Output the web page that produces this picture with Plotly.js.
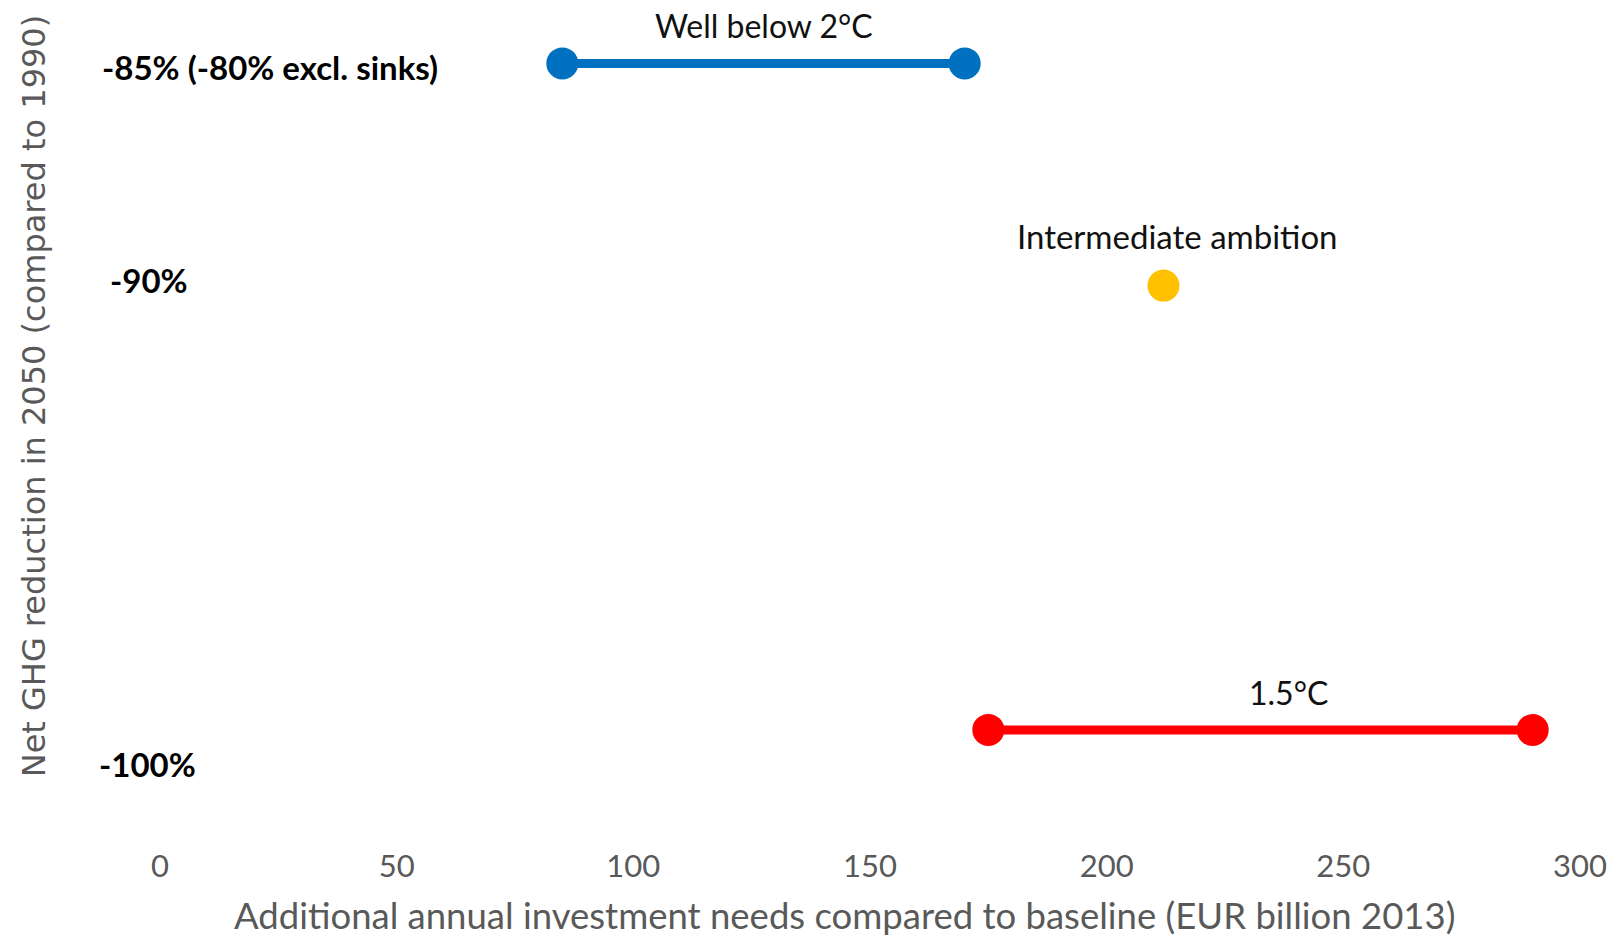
<!DOCTYPE html>
<html>
<head>
<meta charset="utf-8">
<script src="https://cdn.plot.ly/plotly-3.0.1.min.js"></script>
<style>html,body{margin:0;padding:0;background:#fff;}#chart{width:1614px;height:939px;}</style>
</head>
<body>
<div id="chart"></div>
<script>
// Data
const scenarioNames = ["Well below 2°C", "Intermediate ambition", "1.5°C"];
const scenarioColors = ["#0070C0", "#FFC000", "#FF0000"];
const investLow = [85, 212, 175];
const investHigh = [170, 212, 290];
const ghgReduction = [-85, -90, -100];
const reductionLabels = ["-85% (-80% excl. sinks)", "-90%", "-100%"];
const xTickVals = [0, 50, 100, 150, 200, 250, 300];
const xTitle = 'Additional annual investment needs compared to baseline (EUR billion 2013)';
const yTitle = 'Net GHG reduction in 2050 (compared to 1990)';

const traces = scenarioNames.map((n, i) => ({
  type: 'scatter',
  mode: 'lines+markers',
  name: n,
  x: investLow[i] === investHigh[i] ? [investLow[i]] : [investLow[i], investHigh[i]],
  y: investLow[i] === investHigh[i] ? [ghgReduction[i]] : [ghgReduction[i], ghgReduction[i]],
  line: {color: scenarioColors[i], width: 9},
  marker: {color: scenarioColors[i], size: 32},
  hoverinfo: 'x+y'
}));

const nameShift = [38, 50, 37];
const nameXOff = [0, 3, 6];
const nameSize = [32, 33, 32];
const labelXShift = [-60, -52, -63];
const labelYShift = [-4, 6, -34];

const annotations = [];
scenarioNames.forEach((n, i) => {
  annotations.push({
    x: (investLow[i] + investHigh[i]) / 2 + nameXOff[i], y: ghgReduction[i],
    xref: 'x', yref: 'y', text: n, showarrow: false,
    yshift: nameShift[i], xanchor: 'center', yanchor: 'middle',
    font: {family: 'Lato, sans-serif', size: nameSize[i], color: '#111'}
  });
});
reductionLabels.forEach((t, i) => {
  annotations.push({
    x: 0, y: ghgReduction[i], xref: 'paper', yref: 'y', text: '<b>' + t + '</b>',
    showarrow: false, xanchor: 'left', yanchor: 'middle',
    xshift: labelXShift[i], yshift: labelYShift[i],
    font: {family: 'Lato, sans-serif', size: 33, color: '#000'}
  });
});
// axis titles
annotations.push({
  x: 0.482, y: 0, xref: 'paper', yref: 'paper', text: xTitle, showarrow: false,
  xanchor: 'center', yanchor: 'middle', yshift: -74, borderpad: 0,
  font: {family: 'Lato, sans-serif', size: 36.5, color: '#595959'}
});
annotations.push({
  x: 0, y: 0.541, xref: 'paper', yref: 'paper', text: yTitle, showarrow: false,
  xanchor: 'center', yanchor: 'middle', xshift: -126, textangle: -90,
  font: {family: '"DejaVu Sans", sans-serif', size: 32, color: '#595959'}
});

const layout = {
  width: 1614, height: 939,
  paper_bgcolor: '#fff', plot_bgcolor: '#fff',
  margin: {l: 160, r: 34, t: 19, b: 98},
  showlegend: false,
  xaxis: {
    range: [0, 300], tickvals: xTickVals, showgrid: false, zeroline: false, showline: false,
    ticks: '', ticklabelstandoff: 4,
    tickfont: {family: 'Lato, sans-serif', size: 31, color: '#595959'},
    fixedrange: true
  },
  yaxis: {
    range: [-102.5, -84], showgrid: false, zeroline: false, showline: false,
    showticklabels: false, ticks: '',
    fixedrange: true
  },
  annotations: annotations
};

Plotly.newPlot('chart', traces, layout, {displayModeBar: false, staticPlot: true});
</script>
</body>
</html>
